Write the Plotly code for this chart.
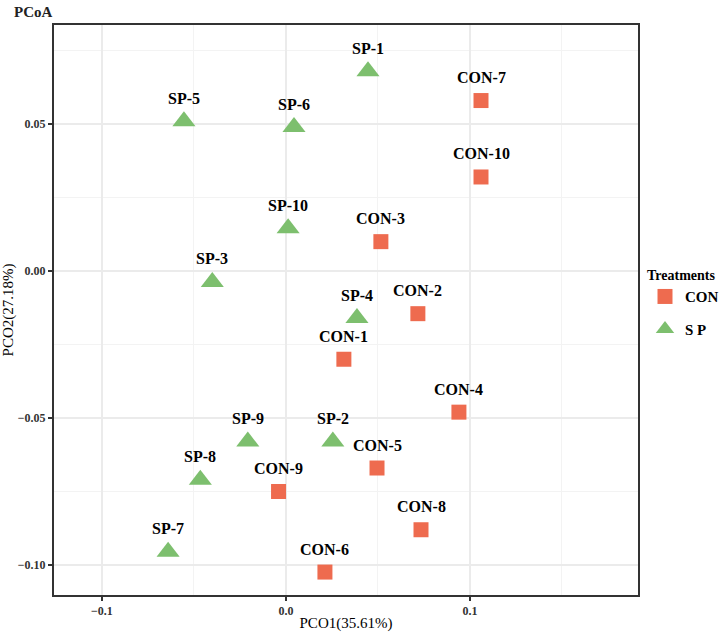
import plotly.graph_objects as go

con_names = ["CON-1", "CON-2", "CON-3", "CON-4", "CON-5", "CON-6", "CON-7", "CON-8", "CON-9", "CON-10"]
con_x = [0.0315, 0.0717, 0.0516, 0.094, 0.0495, 0.0212, 0.106, 0.0734, -0.004, 0.106]
con_y = [-0.030, -0.0145, 0.010, -0.048, -0.067, -0.1024, 0.058, -0.088, -0.075, 0.032]

sp_names = ["SP-1", "SP-2", "SP-3", "SP-4", "SP-5", "SP-6", "SP-7", "SP-8", "SP-9", "SP-10"]
sp_x = [0.0446, 0.0255, -0.040, 0.0386, -0.0554, 0.0044, -0.064, -0.0465, -0.0207, 0.0012]
sp_y = [0.068, -0.058, -0.0037, -0.016, 0.051, 0.049, -0.0955, -0.071, -0.058, 0.0146]

x_ticks = [-0.1, 0.0, 0.1]
x_ticklabels = ["\u22120.1", "0.0", "0.1"]
y_ticks = [0.05, 0.0, -0.05, -0.10]
y_ticklabels = ["0.05", "0.00", "\u22120.05", "\u22120.10"]

CON_COLOR = "#EE6B4F"
SP_COLOR = "#7DBF6E"
FONT = "Liberation Serif"

fig = go.Figure()
fig.add_trace(go.Scatter(
    x=con_x, y=con_y, mode="markers", name="CON", legendgroup="con",
    marker=dict(symbol="square", size=15, color=CON_COLOR, line=dict(width=0)),
))
fig.add_trace(go.Scatter(
    x=sp_x, y=sp_y, mode="markers", name="S P", legendgroup="sp",
    marker=dict(symbol="triangle-up", size=20, color=SP_COLOR, line=dict(width=0)),
))

annotations = []
for n, x, y in list(zip(con_names, con_x, con_y)) + list(zip(sp_names, sp_x, sp_y)):
    annotations.append(dict(
        x=x, y=y, xref="x", yref="y", text=n, showarrow=False, yshift=23,
        font=dict(family=FONT, size=16, color="black", weight="bold"),
    ))

fig.update_layout(
    width=720, height=632,
    margin=dict(l=54, r=82, t=25, b=37),
    paper_bgcolor="white", plot_bgcolor="white",
    font=dict(family=FONT),
    title=dict(text="PCoA", x=14 / 720, xanchor="left", y=1 - 12 / 632, yanchor="middle",
               font=dict(family=FONT, size=15, color="#222", weight="bold")),
    annotations=annotations,
    legend=dict(
        title=dict(text="Treatments", font=dict(family=FONT, size=14, color="black", weight="bold")),
        font=dict(family=FONT, size=15, color="black", weight="bold"),
        xref="container", yref="container",
        x=645 / 720, xanchor="left", y=1 - 262 / 632, yanchor="top",
        bgcolor="rgba(0,0,0,0)", itemsizing="trace", itemwidth=30,
        traceorder="grouped", tracegroupgap=10,
    ),
    shapes=[
        dict(type="line", xref="x", yref="paper", x0=0, x1=0, y0=0, y1=1,
             line=dict(color="#999999", width=1.2, dash="dashdot"), layer="below"),
        dict(type="line", xref="paper", yref="y", x0=0, x1=1, y0=0, y1=0,
             line=dict(color="#999999", width=1.2, dash="dashdot"), layer="below"),
    ],
)

fig.update_xaxes(
    range=[-0.126, 0.1913], tickvals=x_ticks, ticktext=x_ticklabels, automargin=False,
    showgrid=True, gridcolor="#EBEBEB", gridwidth=1.6, zeroline=False,
    minor=dict(tickvals=[-0.05, 0.05, 0.15], showgrid=True, gridcolor="#F3F3F3", gridwidth=0.8, ticks=""),
    showline=True, mirror=True, linecolor="#333333", linewidth=2,
    ticks="outside", ticklen=4, tickwidth=1.5, tickcolor="#333333",
    tickfont=dict(family=FONT, size=12, color="#333333", weight="bold"),
    title=dict(text="PCO1(35.61%)", font=dict(family=FONT, size=15, color="black"), standoff=6),
)
fig.update_yaxes(
    range=[-0.1102, 0.0837], tickvals=y_ticks, ticktext=y_ticklabels, automargin=False,
    showgrid=True, gridcolor="#EBEBEB", gridwidth=1.6, zeroline=False,
    minor=dict(tickvals=[0.075, 0.025, -0.025, -0.075], showgrid=True, gridcolor="#F3F3F3", gridwidth=0.8, ticks=""),
    showline=True, mirror=True, linecolor="#333333", linewidth=2,
    ticks="outside", ticklen=4, tickwidth=1.5, tickcolor="#333333",
    tickfont=dict(family=FONT, size=12, color="#333333", weight="bold"),
    title=dict(text="PCO2(27.18%)", font=dict(family=FONT, size=15, color="black"), standoff=9),
)

fig.write_html("out.html")
